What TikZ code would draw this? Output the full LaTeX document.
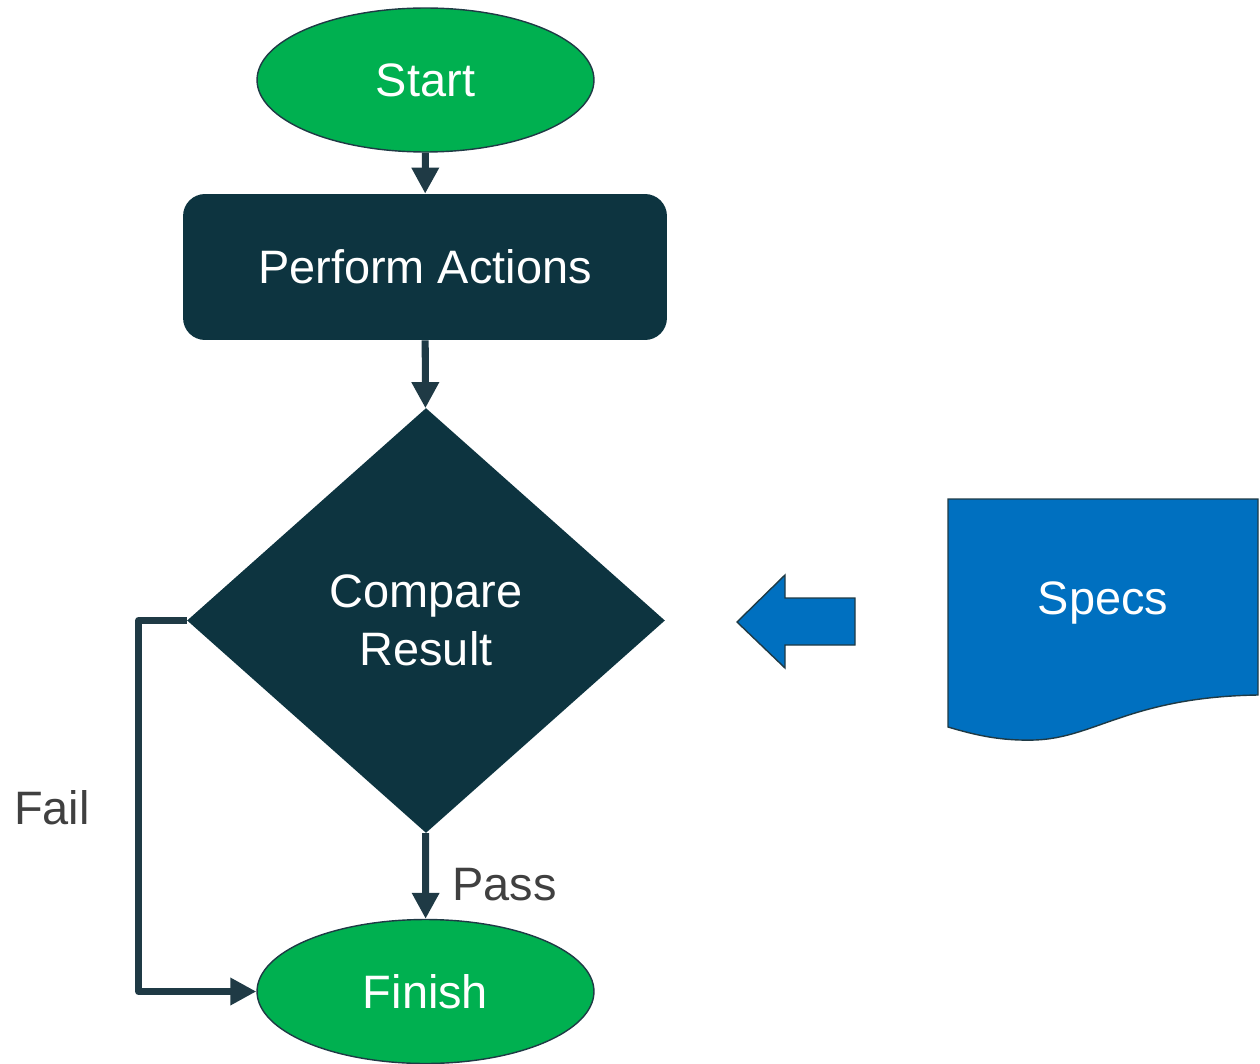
\documentclass[tikz,border=0pt]{standalone}
\usepackage{fontspec}
\setmainfont{Liberation Sans}
\usepackage{xcolor}
\usetikzlibrary{arrows.meta}
\usetikzlibrary{shapes.geometric}

\definecolor{vert}{HTML}{00B050}
\definecolor{sombre}{HTML}{0D3440}
\definecolor{trait}{HTML}{1F3A45}
\definecolor{bleu}{HTML}{0070C0}
\definecolor{gris}{HTML}{404040}

\begin{document}
\begin{tikzpicture}[x=0.02cm,y=-0.02cm]

\tikzset{
    texte/.style = {
    font=\fontsize{26.7}{32}\selectfont,
    text=white,
    align=center
    }
}

\tikzstyle{terminal}=[ellipse, draw=trait, line width=0.8pt, fill=vert, minimum width=6.74cm, minimum height=2.88cm, inner sep=0pt, texte]
\tikzstyle{action}=[rectangle, rounded corners=0.44cm, fill=sombre, minimum width=9.68cm, minimum height=2.92cm, texte]
\tikzstyle{decision}=[diamond, fill=sombre, minimum width=9.56cm, minimum height=8.5cm, inner sep=0pt, texte]
\tikzstyle{etiquette}=[font=\fontsize{26.7}{32}\selectfont, text=gris]
\tikzstyle{fleche}=[line width=4pt, draw=trait, line join=round, -{Triangle[length=0.52cm, width=0.52cm]}]

\useasboundingbox (0,0) rectangle (1260,1064);

\node (start) [terminal] at (425.5,80) {Start};
\node (perform) [action] at (425,267) {Perform Actions};
\node (compare) [decision] at (426,620.5) {Compare\\[1pt]Result};
\node (finish) [terminal] at (425.5,991.5) {Finish};

\draw[fleche] (start) -- (perform);
\draw[fleche] (perform) -- (compare);
\draw[fleche] (compare) -- (finish) node[pos=0.6, right=10pt, etiquette] (pass) {Pass};
\draw[fleche] (compare.west) -- ++(-48,0) |- (finish.west);

\node (fail) [etiquette] at (52,808) {Fail};

% fleche bleue vers la gauche
\draw[fill=bleu, draw=trait, line width=0.8pt] (737,622) -- (785,575) -- (785,598) -- (855,598)
    -- (855,645) -- (785,645) -- (785,668) -- cycle;

% document
\draw[fill=bleu, draw=trait, line width=0.8pt] (948,499) -- (1258,499) -- (1258,695)
    .. controls (1130,697) and (1095,738) .. (1035,740)
    .. controls (1000,741) and (975,735) .. (948,727) -- cycle;
\node (specs) [texte] at (1103,603) {Specs};

\end{tikzpicture}
\end{document}
